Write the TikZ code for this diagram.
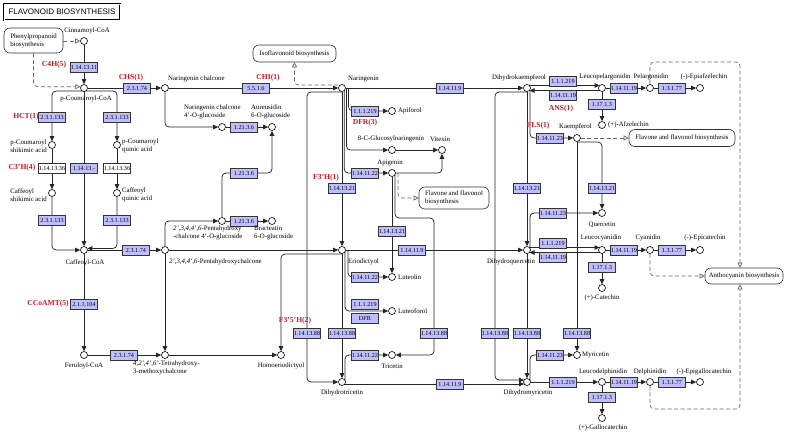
\documentclass[tikz,border=0pt]{standalone}
\usepackage{fontspec}
\setmainfont{Liberation Serif}
\newfontfamily\titlefont{Liberation Sans}
\usetikzlibrary{arrows.meta,calc,backgrounds}
\definecolor{ecblue}{HTML}{BFBFFF}
\definecolor{genered}{RGB}{215,20,30}
\newcommand\lbfont{\fontsize{6.8}{7.8}\selectfont}
\newcommand\ecfont{\fontsize{6.2}{6.2}\selectfont}
\newcommand\genefont{\bfseries\fontsize{7.6}{8}\selectfont}
\begin{document}
\begin{tikzpicture}[x=1pt,y=-1pt,
 cpd/.style={circle,draw=black,fill=white,line width=0.6pt,inner sep=0pt,minimum size=7pt},
 ec/.style={rectangle,draw=black!80,fill=ecblue,line width=0.5pt,inner sep=0pt,minimum width=27pt,minimum height=10pt,font=\ecfont},
 ecw/.style={ec,fill=white},
 lb/.style={inner sep=0pt,font=\lbfont,align=left},
 gene/.style={inner sep=0pt,font=\genefont,text=genered},
 mapbox/.style={draw=black!80,rounded corners=6pt,fill=white,inner sep=1.5pt,font=\lbfont,align=left,line width=0.6pt},
 ln/.style={draw=black!85,line width=0.75pt},
 arr/.style={ln,-{Triangle[length=5pt,width=4.5pt]}},
 rc/.style={rounded corners=4pt},
 dsh/.style={draw=black!60,line width=0.7pt,dash pattern=on 4pt off 2.5pt,-{Triangle[open,length=5pt,width=5pt]}}]
\useasboundingbox (0,0) rectangle (786,434);

% title and map boxes
\node[draw=black,line width=0.8pt,double,double distance=0.7pt,minimum width=116pt,minimum height=16pt,inner sep=0pt,font=\titlefont\fontsize{8}{8}\selectfont] (title) at (62,12) {FLAVONOID BIOSYNTHESIS};
\node[mapbox,minimum width=59pt,minimum height=25pt] (phen) at (33.5,40.5) {Phenylpropanoid\\biosynthesis};
\node[mapbox,minimum width=83pt,minimum height=17pt] (iso) at (294.5,53.5) {Isoflavonoid biosynthesis};
\node[mapbox,minimum width=70pt,minimum height=22pt] (flav1) at (454,198) {Flavone and flavonol\\biosynthesis};
\node[mapbox,minimum width=106pt,minimum height=17pt] (flav2) at (682,138) {Flavone and flavonol biosynthesis};
\node[mapbox,minimum width=78pt,minimum height=16pt] (antho) at (744,276) {Anthocyanin biosynthesis};

% compounds
\node[cpd] (cin) at (84,41) {};
\node[cpd] (pcoa) at (84,88) {};
\node[cpd] (pcs) at (52,145) {};
\node[cpd] (pcq) at (117,145) {};
\node[cpd] (cafs) at (52,193) {};
\node[cpd] (cafq) at (117,193) {};
\node[cpd] (cafcoa) at (84,250) {};
\node[cpd] (fer) at (84,355) {};
\node[cpd] (narch) at (165,88) {};
\node[cpd] (narglc) at (222,127) {};
\node[cpd] (aur) at (272,127) {};
\node[cpd] (pent) at (165,250) {};
\node[cpd] (pentglc) at (222,221) {};
\node[cpd] (brac) at (272,221) {};
\node[cpd] (tetra) at (165,355) {};
\node[cpd] (homo) at (281,355) {};
\node[cpd] (nar) at (342,88) {};
\node[cpd] (eri) at (342,250) {};
\node[cpd] (dtric) at (342,382) {};
\node[cpd] (apif) at (392,111) {};
\node[cpd] (cglc) at (392,150) {};
\node[cpd] (vit) at (442,150) {};
\node[cpd] (apig) at (392,173) {};
\node[cpd] (lut) at (392,277) {};
\node[cpd] (lutf) at (392,311) {};
\node[cpd] (tric) at (392,355) {};
\node[cpd] (dhk) at (527,88) {};
\node[cpd] (dhq) at (527,250) {};
\node[cpd] (dhm) at (527,382) {};
\node[cpd] (lpel) at (602,88) {};
\node[cpd] (pel) at (650,88) {};
\node[cpd] (epiaf) at (700,88) {};
\node[cpd] (afz) at (602,125) {};
\node[cpd] (kae) at (577,138) {};
\node[cpd] (que) at (602,213) {};
\node[cpd] (lcya) at (602,250) {};
\node[cpd] (cya) at (650,250) {};
\node[cpd] (epicat) at (700,250) {};
\node[cpd] (cat) at (602,288) {};
\node[cpd] (myr) at (577,355) {};
\node[cpd] (ldel) at (602,382) {};
\node[cpd] (del) at (650,382) {};
\node[cpd] (epigc) at (700,382) {};
\node[cpd] (gcat) at (602,418) {};

% enzymes
\node[ec] (e1) at (84,67) {1.14.13.11};
\node[ec] (e2) at (137,88) {2.3.1.74};
\node[ec] (e3) at (52,117) {2.3.1.133};
\node[ec] (e4) at (117,117) {2.3.1.133};
\node[ecw] (e5) at (52,168) {1.14.13.36};
\node[ecw] (e6) at (117,168) {1.14.13.36};
\node[ec] (e7) at (84,168) {1.14.13.-};
\node[ec] (e8) at (52,220) {2.3.1.133};
\node[ec] (e9) at (117,220) {2.3.1.133};
\node[ec] (e10) at (136,250) {2.3.1.74};
\node[ec] (e11) at (84,304) {2.1.1.104};
\node[ec] (e12) at (124,355) {2.3.1.74};
\node[ec] (e13) at (256,88) {5.5.1.6};
\node[ec] (e14) at (244,127) {1.21.3.6};
\node[ec] (e15) at (244,173) {1.21.3.6};
\node[ec] (e16) at (244,221) {1.21.3.6};
\node[ec] (e17) at (365,111) {1.1.1.219};
\node[ec] (e18) at (365,173) {1.14.11.22};
\node[ec] (e19) at (342,188) {1.14.13.21};
\node[ec] (e20) at (450,88) {1.14.11.9};
\node[ec] (e21) at (563,81) {1.1.1.219};
\node[ec] (e22) at (563,95) {1.14.11.19};
\node[ec] (e23) at (550,138) {1.14.11.23};
\node[ec] (e24) at (624,88) {1.14.11.19};
\node[ec] (e25) at (672,88) {1.3.1.77};
\node[ec] (e26) at (602,104) {1.17.1.3};
\node[ec] (e27) at (527,188) {1.14.13.21};
\node[ec] (e28) at (602,188) {1.14.13.21};
\node[ec] (e29) at (553,213) {1.14.11.23};
\node[ec] (e30) at (553,243) {1.1.1.219};
\node[ec] (e31) at (553,257) {1.14.11.19};
\node[ec] (e32) at (624,250) {1.14.11.19};
\node[ec] (e33) at (672,250) {1.3.1.77};
\node[ec] (e34) at (602,267) {1.17.1.3};
\node[ec] (e35) at (392,231) {1.14.13.21};
\node[ec] (e36) at (412,250) {1.14.11.9};
\node[ec] (e37) at (365,277) {1.14.11.22};
\node[ec] (e38) at (365,304) {1.1.1.219};
\node[ec] (e39) at (365,318) {DFR};
\node[ec] (e40) at (307,333) {1.14.13.88};
\node[ec] (e41) at (342,333) {1.14.13.88};
\node[ec] (e42) at (365,355) {1.14.11.22};
\node[ec] (e43) at (434,333) {1.14.13.88};
\node[ec] (e44) at (450,384) {1.14.11.9};
\node[ec] (e45) at (495,333) {1.14.13.88};
\node[ec] (e46) at (527,333) {1.14.13.88};
\node[ec] (e47) at (577,333) {1.14.13.88};
\node[ec] (e48) at (550,355) {1.14.11.23};
\node[ec] (e49) at (563,382) {1.1.1.219};
\node[ec] (e50) at (624,382) {1.14.11.19};
\node[ec] (e51) at (672,382) {1.3.1.77};
\node[ec] (e52) at (602,397) {1.17.1.3};

% gene labels
\node[gene] (g1) at (54,65) {C4H(5)};
\node[gene] (g2) at (131,78) {CHS(1)};
\node[gene] (g3) at (26,117) {HCT(1)};
\node[gene] (g4) at (22,168) {C3'H(4)};
\node[gene] (g5) at (48,304) {CCoAMT(5)};
\node[gene] (g6) at (268,78) {CHI(1)};
\node[gene] (g7) at (365,123) {DFR(3)};
\node[gene] (g8) at (326,178) {F3'H(1)};
\node[gene] (g9) at (538,126) {FLS(1)};
\node[gene] (g10) at (561,109) {ANS(1)};
\node[gene] (g11) at (295,321) {F3'5'H(2)};

% compound labels
\node[lb] (t1) at (87,31) {Cinnamoyl-CoA};
\node[lb] (t2) at (86,99) {p-Coumaroyl-CoA};
\node[lb,anchor=east] (t3) at (47,146) {p-Coumaroyl\\shikimic acid};
\node[lb,anchor=west] (t4) at (122,146) {p-Coumaroyl\\quinic acid};
\node[lb,anchor=east] (t5) at (47,195) {Caffeoyl\\shikimic acid};
\node[lb,anchor=west] (t6) at (122,195) {Caffeoyl\\quinic acid};
\node[lb] (t7) at (85,263) {Caffeoyl-CoA};
\node[lb] (t8) at (84,366) {Feruloyl-CoA};
\node[lb,anchor=north west] (t9) at (133,361) {\textit{4,2',4',6'}-Tetrahydroxy-\\3-methoxychalcone};
\node[lb] (t10) at (281,366) {Homoeriodictyol};
\node[lb,anchor=west] (t11) at (169,262) {\textit{2',3,4,4',6}-Pentahydroxychalcone};
\node[lb,anchor=north west] (t12) at (173,226) {\textit{2',3,4,4',6}-Pentahydroxy\\-chalcone 4'-O-glucoside};
\node[lb,anchor=north west] (t13) at (254,226) {Bracteatin\\6-O-glucoside};
\node[lb,anchor=north west] (t14) at (184,105) {Naringenin chalcone\\4'-O-glucoside};
\node[lb,anchor=north west] (t15) at (251,105) {Aureusidin\\6-O-glucoside};
\node[lb,anchor=west] (t16) at (168,79) {Naringenin chalcone};
\node[lb,anchor=west] (t17) at (348,79) {Naringenin};
\node[lb,anchor=west] (t18) at (398,111) {Apiforol};
\node[lb] (t19) at (391,139) {8-C-Glucosylnaringenin};
\node[lb] (t20) at (440,139) {Vitexin};
\node[lb] (t21) at (390,163) {Apigenin};
\node[lb,anchor=west] (t22) at (348,262) {Eriodictyol};
\node[lb,anchor=west] (t23) at (398,277) {Luteolin};
\node[lb,anchor=west] (t24) at (398,311) {Luteoforol};
\node[lb] (t25) at (392,366) {Tricetin};
\node[lb] (t26) at (342,393) {Dihydrotricetin};
\node[lb] (t27) at (519,78) {Dihydrokaempferol};
\node[lb] (t28) at (511,262) {Dihydroquercetin};
\node[lb] (t29) at (528,393) {Dihydromyricetin};
\node[lb] (t30) at (605,77) {Leucopelargonidin};
\node[lb] (t31) at (651,77) {Pelargonidin};
\node[lb] (t32) at (704,77) {(-)-Epiafzelechin};
\node[lb,anchor=west] (t33) at (608,125) {(+)-Afzelechin};
\node[lb,anchor=west] (t34) at (559,127) {Kaempferol};
\node[lb] (t35) at (602,225) {Quercetin};
\node[lb] (t36) at (601,238) {Leucocyanidin};
\node[lb] (t37) at (648,238) {Cyanidin};
\node[lb] (t38) at (705,238) {(-)-Epicatechin};
\node[lb] (t39) at (602,298) {(+)-Catechin};
\node[lb,anchor=west] (t40) at (582,355) {Myricetin};
\node[lb] (t41) at (603,372) {Leucodelphinidin};
\node[lb] (t42) at (650,372) {Delphinidin};
\node[lb] (t43) at (704,372) {(-)-Epigallocatechin};
\node[lb] (t44) at (603,428) {(+)-Gallocatechin};

\coordinate (k1) at (434,218);
\coordinate (dtop) at (740,62);
\coordinate (dbot) at (740,409);

\begin{scope}[on background layer]
% phenylpropanoid part
\draw[arr] (cin) -- (pcoa.north);
\draw[dsh] (phen.east |- cin) -- (cin.west);
\draw[dsh,rc] (phen.south) |- (pcoa.160);
\draw[arr] (pcoa) -- (narch.west);
\draw[arr,rc] ($(pcoa)+(0,3)$) -| (pcs.north);
\draw[arr,rc] ($(pcoa)+(0,3)$) -| (pcq.north);
\draw[arr] (pcoa) -- (cafcoa.north);
\draw[arr] (pcs) -- (cafs.north);
\draw[arr] (pcq) -- (cafq.north);
\draw[arr,rc] (cafs) |- (cafcoa.west);
\draw[arr,rc] (cafq) |- (cafcoa.25);
\draw[arr] (cafcoa) -- (pent.west);
\draw[arr] (cafcoa) -- (fer.north);
\draw[arr] (fer) -- (tetra.west);
\draw[arr] (pent) -- (tetra.north);
\draw[arr,rc] (pent) |- (pentglc.west);
\draw[arr] (pentglc) -- (brac.west);
\draw[arr,rc] (pentglc) |- (e15.center) -| (aur.south);
\draw[arr,rc] (narch) |- (narglc.west);
\draw[arr] (narglc) -- (aur.west);
\draw[arr] (narch) -- (nar.west);
\draw[dsh,rc] ($(nar)+(-4,-3)$) -| (iso.south);
% naringenin branch
\draw[arr] (nar) -- (dhk.west);
\draw[arr] (nar) -- (eri.north);
\draw[arr,rc] ($(nar)+(2.2,0)$) |- (apig.west);
\draw[arr,rc] ($(nar)+(4.4,0)$) |- (cglc.west);
\draw[arr,rc] ($(nar)+(6.6,0)$) |- (apif.west);
\draw[arr,rc] ($(nar)+(0,4)$) -| ($(dtric)+(-35,0)$) -- (dtric.west);
\draw[arr] (eri) -- (dtric.north);
\draw[arr,rc] ($(eri)+(6,0)$) |- (lut.west);
\draw[arr,rc] ($(eri)+(3,0)$) |- (lutf.west);
\draw[arr,rc] ($(eri)+(0,4)$) -| (homo.north);
\draw[arr] (pent) -- (eri.west);
\draw[arr] (tetra) -- (homo.west);
\draw[arr] (eri) -- (dhq.west);
\draw[arr,rc] ($(dtric)+(3,0)$) |- (tric.west);
\draw[arr] ($(dtric)+(0,2)$) -- ($(dhm)+(-2.9,2)$);
\draw[arr] (apig) -- (lut.north);
\draw[arr,rc] ($(apig)+(3,0)$) |- (k1) |- (tric.east);
\draw[dsh,rc] ($(apig)+(6,0)$) |- (flav1.west);
\draw[arr,rc] (apig) -| (vit.south);
\draw[arr] (cglc) -- (vit.west);
% dihydroflavonols
\draw[arr] ($(dhk)+(2,-2.5)$) -- ($(lpel)+(-2.5,-2.5)$);
\draw[arr] ($(lpel)+(-2,2.5)$) -- ($(dhk)+(2.5,2.5)$);
\draw[arr] (lpel) -- (pel.west);
\draw[arr] (pel) -- (epiaf.west);
\draw[arr] (lpel) -- (afz.north);
\draw[dsh,rc] (pel.north) |- (dtop) -- (dtop |- antho.north);
\draw[dsh,rc] (cya.south) |- (antho.west);
\draw[dsh,rc] (del.south) |- (dbot) -- (dbot |- antho.south);
\draw[arr,rc] ($(dhk)+(3,3)$) |- (kae.west);
\draw[dsh] (kae.east) -- (flav2.west);
\draw[arr,rc] ($(kae)+(0,4)$) -| (que.north);
\draw[arr] (kae) -- (myr.north);
\draw[arr] (dhk) -- (dhq.north);
\draw[arr,rc] ($(dhk)+(0,4)$) -| ($(dhm)+(-32,-2)$) -- ($(dhm)+(-2.9,-2)$);
\draw[arr] (dhq) -- (dhm.north);
\draw[arr,rc] ($(dhq)+(3,0)$) |- (que.west);
\draw[arr] ($(dhq)+(2,-2.5)$) -- ($(lcya)+(-2.5,-2.5)$);
\draw[arr] ($(lcya)+(-2,2.5)$) -- ($(dhq)+(2.5,2.5)$);
\draw[arr] (lcya) -- (cya.west);
\draw[arr] (cya) -- (epicat.west);
\draw[arr] (lcya) -- (cat.north);
\draw[arr] (dhm) -- (ldel.west);
\draw[arr,rc] ($(dhm)+(3,0)$) |- (myr.west);
\draw[arr] (ldel) -- (del.west);
\draw[arr] (del) -- (epigc.west);
\draw[arr] (ldel) -- (gcat.north);
\end{scope}
\end{tikzpicture}
\end{document}
